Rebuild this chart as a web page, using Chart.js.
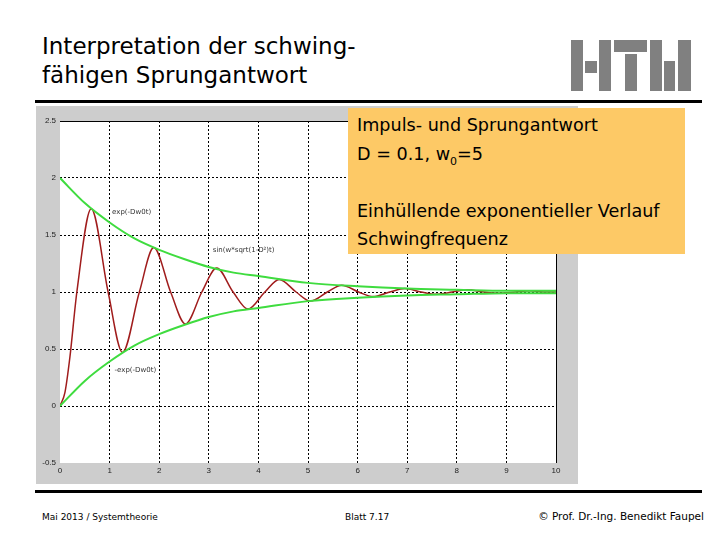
<!DOCTYPE html>
<html lang="de">
<head>
    <meta charset="UTF-8">
    <title>Interpretation der schwingfähigen Sprungantwort</title>
    <script src="https://cdn.jsdelivr.net/npm/chart.js"></script>
    <style>
        body {
            margin: 0;
            width: 720px;
            height: 540px;
            background: #fff;
            position: relative;
            overflow: hidden;
            font-family: "Comic Sans MS", "DejaVu Sans", sans-serif;
        }
        .title {
            position: absolute;
            left: 42px;
            top: 32px;
            font-size: 23px;
            line-height: 29px;
            color: #000;
        }
        .rule {
            position: absolute;
            left: 35px;
            width: 667px;
            height: 3px;
            background: #000;
        }
        .logo div {
            position: absolute;
            background: #808080;
        }
        .figure {
            position: absolute;
            left: 36px;
            top: 106px;
            width: 542px;
            height: 378px;
            background: #cdcdcd;
        }
        .note {
            position: absolute;
            left: 348px;
            top: 108px;
            width: 337px;
            height: 146px;
            background: #fdc966;
            box-sizing: border-box;
            padding: 3px 0 0 9px;
            font-size: 17.6px;
            line-height: 28.5px;
            color: #000;
        }
        .note sub {
            font-size: 11px;
            line-height: 0;
        }
        .footer {
            position: absolute;
            top: 512px;
            font-size: 9px;
            color: #000;
        }
    </style>
</head>
<body>
    <div class="title">Interpretation der schwing-<br>fähigen Sprungantwort</div>

    <div class="logo">
        <div style="left:571px; top:40px; width:12px; height:51px;"></div>
        <div style="left:585px; top:61px; width:12px; height:12px;"></div>
        <div style="left:599px; top:40px; width:12px; height:51px;"></div>
        <div style="left:614px; top:40px; width:33px; height:12px;"></div>
        <div style="left:625px; top:54px; width:12px; height:37px;"></div>
        <div style="left:650px; top:40px; width:12px; height:51px;"></div>
        <div style="left:664px; top:61px; width:11px; height:30px;"></div>
        <div style="left:678px; top:40px; width:13px; height:51px;"></div>
    </div>

    <div class="rule" style="top:100px;"></div>

    <div class="figure">
        <canvas id="sprung" width="542" height="378"></canvas>
    </div>

    <div class="note">
        Impuls- und Sprungantwort<br>
        D = 0.1, w<sub>0</sub>=5<br>
        <br>
        Einhüllende exponentieller Verlauf<br>
        Schwingfrequenz
    </div>

    <div class="rule" style="top:490px;"></div>

    <div class="footer" style="left:42px;">Mai 2013 / Systemtheorie</div>
    <div class="footer" style="left:345px;">Blatt 7.17</div>
    <div class="footer" style="right:16px; font-size:10.5px; top:510px;">© Prof. Dr.-Ing. Benedikt Faupel</div>

    <script>
        // Werte
        const stepT = [0, 0.1, 0.2, 0.34, 0.63, 0.97, 1.26, 1.6, 1.89, 2.23, 2.53, 2.86, 3.16, 3.49, 3.79,
                       4.13, 4.42, 4.76, 5.05, 5.39, 5.68, 6.02, 6.31, 6.65, 6.95, 7.28, 7.58, 7.91, 8.21,
                       8.55, 8.84, 9.18, 9.47, 9.81, 10];
        const stepY = [0, 0.12, 0.43, 1, 1.73, 1, 0.47, 1, 1.39, 1, 0.72, 1, 1.21, 1, 0.85,
                       1, 1.11, 1, 0.92, 1, 1.06, 1, 0.96, 1, 1.03, 1, 0.98, 1, 1.02,
                       1, 0.99, 1, 1.01, 1, 1];

        const envT = [0, 0.5, 1, 1.5, 2, 2.5, 3, 3.5, 4, 5, 6, 7, 8, 9, 10];
        const envUpper = [2, 1.78, 1.61, 1.47, 1.37, 1.29, 1.22, 1.17, 1.14, 1.08, 1.05, 1.03, 1.02, 1.01, 1.01];
        const envLower = [0, 0.22, 0.39, 0.53, 0.63, 0.71, 0.78, 0.83, 0.86, 0.92, 0.95, 0.97, 0.98, 0.99, 0.99];

        const xTicks = [0, 1, 2, 3, 4, 5, 6, 7, 8, 9, 10];
        const yTicks = [-0.5, 0, 0.5, 1, 1.5, 2, 2.5];

        const labels = [
            { text: 'exp(-Dw0t)', x: 1.05, y: 1.70 },
            { text: 'sin(w*sqrt(1-D²)t)', x: 3.08, y: 1.37 },
            { text: '-exp(-Dw0t)', x: 1.1, y: 0.31 }
        ];

        const toPoints = (xs, ys) => xs.map((x, i) => ({ x: x, y: ys[i] }));

        const plotFrame = {
            id: 'plotFrame',
            beforeDraw(chart) {
                const a = chart.chartArea;
                const c = chart.ctx;
                c.save();
                c.fillStyle = '#fff';
                c.fillRect(a.left, a.top, a.right - a.left, a.bottom - a.top);
                c.restore();
            },
            afterDatasetsDraw(chart) {
                const a = chart.chartArea;
                const c = chart.ctx;
                const sx = chart.scales.x, sy = chart.scales.y;
                c.save();
                c.strokeStyle = '#000';
                c.lineWidth = 1;
                c.beginPath();
                c.moveTo(a.left, a.top + 0.5);
                c.lineTo(a.right + 0.5, a.top + 0.5);
                c.lineTo(a.right + 0.5, a.bottom);
                c.stroke();
                c.fillStyle = '#333';
                c.font = '7px "DejaVu Sans", sans-serif';
                c.textBaseline = 'middle';
                labels.forEach(l => c.fillText(l.text, sx.getPixelForValue(l.x), sy.getPixelForValue(l.y)));
                c.restore();
            }
        };

        const gridColor = (min, max) => ctx =>
            (ctx.tick && (ctx.tick.value === min || ctx.tick.value === max)) ? 'rgba(0,0,0,0)' : '#000';

        new Chart(document.getElementById('sprung'), {
            type: 'line',
            data: {
                datasets: [
                    {
                        label: 'Einhüllende oben',
                        data: toPoints(envT, envUpper),
                        borderColor: '#3fdc3f',
                        borderWidth: 2,
                        pointRadius: 0,
                        cubicInterpolationMode: 'monotone',
                        order: 0
                    },
                    {
                        label: 'Einhüllende unten',
                        data: toPoints(envT, envLower),
                        borderColor: '#3fdc3f',
                        borderWidth: 2,
                        pointRadius: 0,
                        cubicInterpolationMode: 'monotone',
                        order: 1
                    },
                    {
                        label: 'Sprungantwort',
                        data: toPoints(stepT, stepY),
                        borderColor: '#a01c1c',
                        borderWidth: 1.5,
                        pointRadius: 0,
                        cubicInterpolationMode: 'monotone',
                        order: 2
                    }
                ]
            },
            options: {
                responsive: false,
                animation: false,
                layout: { padding: { left: 0, right: 22, top: 15, bottom: 0 } },
                plugins: {
                    legend: { display: false },
                    tooltip: { enabled: false }
                },
                scales: {
                    x: {
                        type: 'linear',
                        min: 0,
                        max: 10,
                        afterFit: s => { s.height = 21; },
                        afterBuildTicks: s => { s.ticks = xTicks.map(v => ({ value: v })); },
                        ticks: { color: '#222', font: { size: 8 }, padding: 3, maxRotation: 0, callback: v => String(v) },
                        grid: { color: gridColor(0, 10), drawTicks: false, borderDash: [2, 2] },
                        border: { display: false, dash: [2, 2] }
                    },
                    y: {
                        min: -0.5,
                        max: 2.5,
                        afterFit: s => { s.width = 24; },
                        afterBuildTicks: s => { s.ticks = yTicks.map(v => ({ value: v })); },
                        ticks: { color: '#222', font: { size: 8 }, padding: 4, callback: v => String(v) },
                        grid: { color: gridColor(-0.5, 2.5), drawTicks: false, borderDash: [2, 2] },
                        border: { display: false, dash: [2, 2] }
                    }
                }
            },
            plugins: [plotFrame]
        });
    </script>
</body>
</html>
